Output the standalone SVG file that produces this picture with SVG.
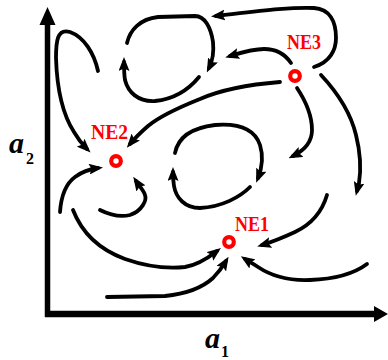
<svg xmlns="http://www.w3.org/2000/svg" width="388" height="360" viewBox="0 0 388 360">
<style>
.c{fill:none;stroke:#000;stroke-width:3.8;stroke-linecap:round;stroke-linejoin:round;marker-end:url(#ah)}
.ne{fill:none;stroke:#f00;stroke-width:4.2}
.nt{font-family:"Liberation Serif","Times New Roman",serif;font-weight:bold;font-size:21px;fill:#f00}
.ax{font-family:"Liberation Serif","Times New Roman",serif;font-weight:bold;font-style:italic;font-size:30px;fill:#000}
.sub{font-family:"Liberation Serif","Times New Roman",serif;font-weight:bold;font-size:16px;fill:#000}
</style>
<defs>
<marker id="ah" viewBox="0 0 14 11" refX="9" refY="5.5" markerWidth="14" markerHeight="11" markerUnits="userSpaceOnUse" orient="auto">
<path d="M0,0 L14,5.5 L0,11 L2.5,5.5 z" fill="#000"/>
</marker>
</defs>
<g id="axes">
<line x1="47.5" y1="317" x2="47.5" y2="22" stroke="#000" stroke-width="5.5"/>
<polygon points="39.5,25 47.5,7 55.5,25" fill="#000"/>
<line x1="45" y1="314" x2="376" y2="314" stroke="#000" stroke-width="6.5"/>
<polygon points="374,306 388,314 374,322" fill="#000"/>
<text class="ax" x="9" y="153">a</text><text class="sub" x="26" y="164">2</text>
<text class="ax" x="205" y="348">a</text><text class="sub" x="221" y="357">1</text>
</g>
<g id="connectors">
<path class="c" d="M98,71 C94,53 84,37 70,32 C57,28 56,42 56,58 C57,90 63,115 74,132 C78,139 82,144 87,149"/>
<path class="c" d="M127,43 C130,30 140,19 158,17 L195,16 C205,16 211,28 213,42 C214,52 213,60 209,68"/>
<path class="c" d="M199,77 C190,88 175,99 155,101 C138,102 128,92 125,80 C124,74 124,68 124,62"/>
<path class="c" d="M314,67 C330,62 336,50 336,38 C336,22 330,9 314,8 C290,7 260,11 216,16"/>
<path class="c" d="M291,63 C285,54 276,49 264,49 C252,49 240,53 230,56"/>
<path class="c" d="M280,82 C255,84 225,88 200,99 C180,107 160,116 148,126 C140,133 135,138 130,144"/>
<path class="c" d="M297,88 C305,100 312,115 312,130 C312,142 305,150 293,156"/>
<path class="c" d="M321,75 C335,90 350,110 356,135 C361,155 361,170 359,183 L357,191"/>
<path class="c" d="M175,153 C178,138 190,128 215,125 C240,123 255,130 260,145 C264,158 262,168 258,178"/>
<path class="c" d="M250,187 C240,197 222,207 200,208 C185,208 176,198 174,186 C173,180 173,176 173,172"/>
<path class="c" d="M60,212 C61,198 64,185 75,177 C83,171 90,169 98,168"/>
<path class="c" d="M100,210 C108,214 118,218 130,215 C142,211 147,200 145,195 C144,191 140,187 136,181"/>
<path class="c" d="M73,210 C80,228 95,248 125,259 C145,266 165,269 185,267 C198,265 208,258 217,251"/>
<path class="c" d="M107,297 L165,296 C185,294 202,288 213,278 C219,272 223,266 226,261"/>
<path class="c" d="M327,195 C322,212 312,224 295,232 C282,238 272,242 262,245"/>
<path class="c" d="M367,264 C355,273 338,279 310,280 C288,281 270,275 258,267 C252,263 248,261 245,259"/>
</g>
<g id="NE1">
<circle class="ne" cx="229" cy="242" r="4.8"/>
<text class="nt" x="235" y="231" textLength="34" lengthAdjust="spacingAndGlyphs">NE1</text>
</g>
<g id="NE2">
<circle class="ne" cx="116" cy="161" r="4.8"/>
<text class="nt" x="91" y="139" textLength="37" lengthAdjust="spacingAndGlyphs">NE2</text>
</g>
<g id="NE3">
<circle class="ne" cx="295" cy="76" r="4.8"/>
<text class="nt" x="287" y="49" textLength="34" lengthAdjust="spacingAndGlyphs">NE3</text>
</g>
</svg>
